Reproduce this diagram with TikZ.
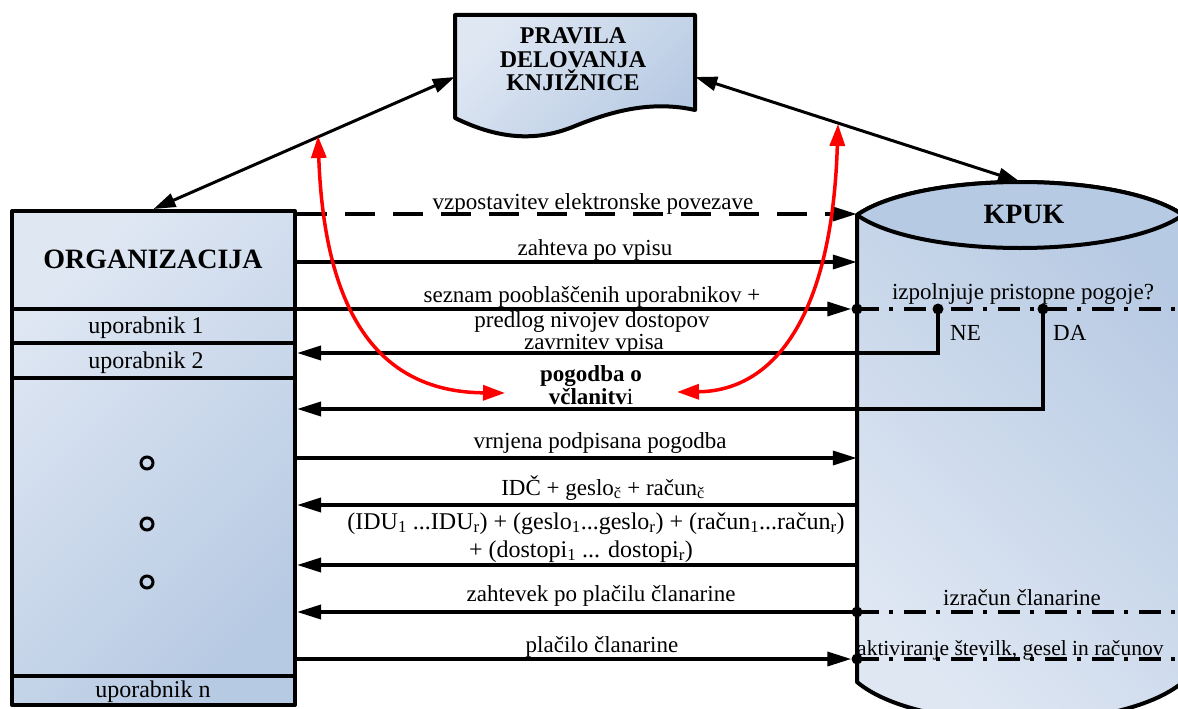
\documentclass[tikz,border=0pt]{standalone}
\usepackage{fontspec}
\setmainfont{Liberation Serif}
\usetikzlibrary{arrows.meta,calc}
\definecolor{fillLight}{HTML}{DFE7F3}
\definecolor{fillDark}{HTML}{B7CAE3}
\definecolor{flowRed}{HTML}{FF0000}

\begin{document}
\begin{tikzpicture}[x=1pt,y=-1pt,
  box/.style={draw=black, line width=4pt, line join=round},
  shadeA/.style={top color=fillLight, bottom color=fillDark, shading angle=45},
  shadeB/.style={top color=fillLight, bottom color=fillDark, shading angle=135},
  lbl/.style={font=\fontsize{23}{27}\selectfont, inner sep=0, anchor=base},
  orglbl/.style={font=\fontsize{24}{28}\selectfont, inner sep=0, anchor=base},
  ttl/.style={font=\bfseries\fontsize{28}{32}\selectfont, inner sep=0, anchor=base},
  doclbl/.style={font=\bfseries\fontsize{24}{28}\selectfont, inner sep=0, anchor=base},
  flow/.style={line width=3.5pt, -{Triangle[length=24pt,width=14pt]}},
  dflow/.style={line width=3pt, {Triangle[length=22pt,width=14pt]}-{Triangle[length=22pt,width=14pt]}},
  redflow/.style={draw=flowRed, line width=3.5pt,
    {Triangle[length=22pt,width=15pt]}-{Triangle[length=22pt,width=15pt]}},
  cond/.style={line width=4pt, dash pattern=on 22pt off 10pt on 4pt off 11pt},
  junction/.style={circle, fill=black, inner sep=0, minimum size=11pt},
  ellip/.style={circle, draw, line width=3pt, inner sep=0, minimum size=12pt},
]
\useasboundingbox (0,0) rectangle (1178,709);

% rows of the message sequence
\coordinate (yConnect) at (0,214);
\coordinate (yRequest) at (0,262);
\coordinate (yList)    at (0,309);
\coordinate (yReject)  at (0,353);
\coordinate (yContract) at (0,409);
\coordinate (ySigned)  at (0,458);
\coordinate (yIDC)     at (0,505);
\coordinate (yIDU)     at (0,565);
\coordinate (yFee)     at (0,612);
\coordinate (yPay)     at (0,659);

% ---------- organisation ----------
\node[box, shadeA, minimum width=283pt, minimum height=494pt, inner sep=0] (org) at (153.5,458) {};
\foreach \yy in {309,343,378,676}
  \draw[line width=4pt] (org.west) ++(0,\yy-458) -- ++(283,0);
\node[ttl] (orgTitle) at (153,268) {ORGANIZACIJA};
\node[orglbl] (user1) at (146,333) {uporabnik 1};
\node[orglbl] (user2) at (146,368) {uporabnik 2};
\node[orglbl] (userN) at (153,697) {uporabnik n};
\node[ellip] (more1) at (147,463) {};
\node[ellip] (more2) at (147,524) {};
\node[ellip] (more3) at (147,582) {};

% ---------- library rules (document shape) ----------
\draw[box, shadeA] (455,15) -- (695,15) -- (695,110)
  .. controls (650,100) and (610,112) .. (575,126)
  .. controls (530,145) and (490,135) .. (455,118) -- cycle;
\node[inner sep=0, minimum width=240pt, minimum height=105pt] (rules) at (575,65) {};
\node[doclbl] (rulesA) at (573,44) {PRAVILA};
\node[doclbl] (rulesB) at (573,67) {DELOVANJA};
\node[doclbl] (rulesC) at (573,90) {KNJIŽNICE};

% ---------- KPUK (cylinder) ----------
\node[inner sep=0, minimum width=326pt, minimum height=527pt] (kpuk) at (1020,445.5) {};
\draw[box, shadeB] (857,215) -- (857,682)
  .. controls (920,735) and (1120,735) .. (1183,682) -- (1183,215)
  .. controls (1120,171) and (920,171) .. (857,215) -- cycle;
\draw[box, fill=fillDark] (857,215) .. controls (920,171) and (1120,171) .. (1183,215)
  .. controls (1120,259) and (920,259) .. (857,215) -- cycle;
\node[ttl] (kpukTitle) at (1024,223) {KPUK};

% ---------- links to the rules ----------
\draw[dflow] (org.north) -- ([yshift=-12pt]rules.west);
\draw[dflow] ([yshift=-12pt]rules.east) -- (kpuk.north);

% ---------- messages ----------
\draw[flow, dash pattern=on 30pt off 18pt] (org.east |- yConnect) -- (kpuk.west |- yConnect);
\node[lbl] (lConnect) at (593,209) {vzpostavitev elektronske povezave};

\draw[flow] (org.east |- yRequest) -- (kpuk.west |- yRequest);
\node[lbl] (lRequest) at (595,255) {zahteva po vpisu};

\node[junction] (jIn)  at (857,309) {};
\node[junction] (jNo)  at (938,309) {};
\node[junction] (jYes) at (1043,309) {};
\draw[cond] (jIn.center) -- (kpuk.east |- jIn);
\draw[flow] (org.east |- yList) -- (jIn.west);
\node[lbl] (lListA) at (592,302) {seznam pooblaščenih uporabnikov +};
\node[lbl] (lListB) at (592,327) {predlog nivojev dostopov};
\node[lbl] (lCheck) at (1023,299) {izpolnjuje pristopne pogoje?};
\node[lbl, anchor=base west] (lNo) at (950,340) {NE};
\node[lbl, anchor=base west] (lYes) at (1053,340) {DA};

\draw[flow] (jNo.center) |- (org.east |- yReject);
\node[lbl] (lReject) at (594,349) {zavrnitev vpisa};

\draw[flow] (jYes.center) |- (org.east |- yContract);
\node[lbl, align=center, font=\fontsize{23}{20}\selectfont] (lContract) at (591,404)
  {\textbf{pogodba o}\\\textbf{včlanitv}i};

\draw[flow] (org.east |- ySigned) -- (kpuk.west |- ySigned);
\node[lbl] (lSigned) at (600,448) {vrnjena podpisana pogodba};

\draw[flow] (kpuk.west |- yIDC) -- (org.east |- yIDC);
\node[lbl] (lIDC) at (603,495) {IDČ + geslo\textsubscript{č} + račun\textsubscript{č}};

\draw[flow] (kpuk.west |- yIDU) -- (org.east |- yIDU);
\node[lbl, font=\fontsize{24}{28}\selectfont] (lIDUa) at (596,529)
  {(IDU\textsubscript{1} ...IDU\textsubscript{r}) + (geslo\textsubscript{1}...geslo\textsubscript{r}) + (račun\textsubscript{1}...račun\textsubscript{r})};
\node[lbl, font=\fontsize{24}{28}\selectfont] (lIDUb) at (581,557)
  {+ (dostopi\textsubscript{1} ... dostopi\textsubscript{r})};

\node[junction] (jCalc) at (857,612) {};
\draw[cond] (jCalc.center) -- (kpuk.east |- jCalc);
\draw[flow] (jCalc.center) -- (org.east |- yFee);
\node[lbl] (lFee) at (601,601) {zahtevek po plačilu članarine};
\node[lbl] (lCalc) at (1022,605) {izračun članarine};

\node[junction] (jAct) at (857,659) {};
\draw[cond] (jAct.center) -- (kpuk.east |- jAct);
\draw[flow] (org.east |- yPay) -- (jAct.west);
\node[lbl] (lPay) at (602,652) {plačilo članarine};
\node[lbl, anchor=base west, font=\fontsize{21.5}{25}\selectfont] (lAct) at (857,655)
  {aktiviranje številk, gesel in računov};

% ---------- rules govern the contract ----------
\coordinate (redA) at (318,136);
\coordinate (redB) at (838,124);
\coordinate (redAend) at (505,393);
\coordinate (redBend) at (677,392);
\draw[redflow] (redA) .. controls (325,330) and (390,392) .. (redAend);
\draw[redflow] (redB) .. controls (832,320) and (772,391) .. (redBend);
\end{tikzpicture}
\end{document}
